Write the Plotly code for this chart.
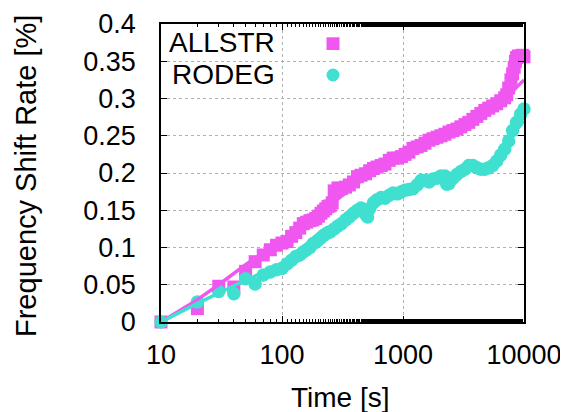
import plotly.graph_objects as go

# ---- data ----
allstr_t = [10, 20, 30, 40, 50, 60, 70, 80, 90, 100, 110, 120, 130, 140, 150, 160, 170, 180, 190, 200,
            210, 220, 230, 240, 250, 260, 270, 290, 310, 335, 360, 390, 420, 450, 490, 530, 570, 610,
            660, 710, 770, 830, 900, 970, 1040, 1120, 1210, 1310, 1410, 1520, 1640, 1770, 1910, 2060,
            2220, 2400, 2590, 2790, 3010, 3250, 3500, 3780, 4080, 4400, 4740, 5110, 5510, 5950, 6420,
            6920, 7200, 7470, 7800, 8050, 8300, 8500, 8690, 9000, 9370, 9700, 10000]
allstr_v = [0.0, 0.018, 0.048, 0.047, 0.068, 0.081, 0.09, 0.097, 0.103, 0.106, 0.108, 0.115, 0.12, 0.126,
            0.132, 0.134, 0.136, 0.137, 0.139, 0.142, 0.146, 0.149, 0.152, 0.155, 0.156, 0.16, 0.176, 0.18,
            0.179, 0.181, 0.184, 0.188, 0.195, 0.197, 0.199, 0.203, 0.206, 0.208, 0.21, 0.212, 0.217,
            0.22, 0.22, 0.222, 0.225, 0.228, 0.233, 0.235, 0.237, 0.24, 0.244, 0.246, 0.248, 0.25, 0.252,
            0.255, 0.257, 0.259, 0.262, 0.265, 0.268, 0.272, 0.276, 0.28, 0.284, 0.287, 0.29, 0.293,
            0.297, 0.301, 0.305, 0.314, 0.325, 0.333, 0.342, 0.35, 0.355, 0.357, 0.357, 0.358, 0.356]

rodeg_t = [10, 20, 30, 40, 50, 60, 70, 80, 90, 100, 110, 120, 130, 140, 150, 160, 170, 180, 190, 200,
           210, 220, 230, 240, 250, 270, 290, 310, 335, 360, 390, 420, 450, 490, 510, 530, 570, 610,
           660, 710, 770, 830, 900, 970, 1040, 1120, 1210, 1310, 1410, 1520, 1640, 1770, 1910, 2060,
           2220, 2300, 2400, 2590, 2790, 3010, 3250, 3500, 3780, 4080, 4400, 4740, 5110, 5510, 5950,
           6420, 6920, 7470, 8050, 8690, 9370, 10000]
rodeg_v = [0.0, 0.027, 0.041, 0.038, 0.058, 0.051, 0.063, 0.067, 0.07, 0.072, 0.078, 0.083, 0.088, 0.09,
           0.094, 0.097, 0.1, 0.105, 0.107, 0.11, 0.113, 0.116, 0.118, 0.12, 0.121, 0.125, 0.129, 0.132,
           0.137, 0.141, 0.146, 0.15, 0.153, 0.145, 0.141, 0.152, 0.16, 0.164, 0.167, 0.166, 0.17, 0.173,
           0.172, 0.175, 0.177, 0.178, 0.179, 0.184, 0.19, 0.19, 0.188, 0.192, 0.193, 0.196, 0.196,
           0.185, 0.186, 0.193, 0.198, 0.202, 0.205, 0.21, 0.21, 0.207, 0.205, 0.205, 0.207, 0.21,
           0.216, 0.224, 0.232, 0.243, 0.257, 0.268, 0.279, 0.286]

# fitted curves drawn as lines
allstr_fit_t = [10, 20, 30, 50, 100, 200, 500, 1000, 2000, 5000, 7000, 10000]
allstr_fit_v = [0.0, 0.03, 0.05, 0.077, 0.11, 0.145, 0.195, 0.22, 0.245, 0.283, 0.3, 0.325]
rodeg_fit_t = [10, 20, 50, 100, 200, 500, 1000, 2000, 5000, 10000]
rodeg_fit_v = [0.0, 0.025, 0.056, 0.078, 0.11, 0.15, 0.175, 0.193, 0.21, 0.27]

x_tickvals = [10, 100, 1000, 10000]
x_ticktext = ["10", "100", "1000", "10000"]
y_tickvals = [0, 0.05, 0.1, 0.15, 0.2, 0.25, 0.3, 0.35, 0.4]
y_ticktext = ["0", "0.05", "0.1", "0.15", "0.2", "0.25", "0.3", "0.35", "0.4"]

series_names = ["ALLSTR", "RODEG"]
MAG = "#F057F0"
TUR = "#40E0D0"
FONT = "Liberation Sans, Arial, sans-serif"

fig = go.Figure()
fig.add_trace(go.Scatter(x=allstr_t, y=allstr_v, mode="markers", name=series_names[0],
                         marker=dict(symbol="square", size=13, color=MAG, line=dict(width=0)),
                         cliponaxis=False))
fig.add_trace(go.Scatter(x=rodeg_t, y=rodeg_v, mode="markers", name=series_names[1],
                         marker=dict(symbol="circle", size=13.5, color=TUR, line=dict(width=0)),
                         cliponaxis=False))
fig.add_trace(go.Scatter(x=allstr_fit_t, y=allstr_fit_v, mode="lines", showlegend=False,
                         line=dict(color=MAG, width=3.5), cliponaxis=False))
fig.add_trace(go.Scatter(x=rodeg_fit_t, y=rodeg_fit_v, mode="lines", showlegend=False,
                         line=dict(color=TUR, width=3.5), cliponaxis=False))

axis_common = dict(
    showline=True, linecolor="black", linewidth=1.5, mirror="allticks",
    ticks="inside", tickcolor="black", tickwidth=1, automargin=False,
    showgrid=True, gridcolor="#b0b0b0", griddash="dot", gridwidth=1,
    zeroline=False, tickfont=dict(family=FONT, size=27, color="black"),
)

fig.update_xaxes(type="log", range=[1, 4], tickvals=x_tickvals, ticktext=x_ticktext,
                 ticklen=6, ticklabelstandoff=8,
                 minor=dict(ticks="inside", ticklen=3, tickcolor="black", showgrid=False),
                 **axis_common)
fig.update_yaxes(range=[0, 0.4], tickvals=y_tickvals, ticktext=y_ticktext,
                 ticklen=6, ticklabelstandoff=18, **axis_common)

# white legend background hiding the grid
fig.add_shape(type="rect", xref="paper", yref="paper", x0=0, x1=0.617, y0=0.779, y1=1,
              fillcolor="white", line=dict(width=0), layer="between")

# legend: text right-aligned, sample to the right
fig.add_annotation(xref="paper", yref="paper", x=(277 - 161) / 363, y=(322 - 42) / 298,
                   text=series_names[0], showarrow=False, xanchor="right", yanchor="middle",
                   font=dict(family=FONT, size=28, color="black"))
fig.add_annotation(xref="paper", yref="paper", x=(277 - 161) / 363, y=(322 - 74) / 298,
                   text=series_names[1], showarrow=False, xanchor="right", yanchor="middle",
                   font=dict(family=FONT, size=28, color="black"))
fig.add_shape(type="rect", xref="paper", yref="paper",
              x0=(326.5 - 161) / 363, x1=(339.5 - 161) / 363,
              y0=(322 - 50) / 298, y1=(322 - 37.3) / 298,
              fillcolor=MAG, line=dict(width=0), layer="above")
fig.add_shape(type="circle", xref="paper", yref="paper",
              x0=(326.5 - 161) / 363, x1=(339.5 - 161) / 363,
              y0=(322 - 81.5) / 298, y1=(322 - 68.5) / 298,
              fillcolor=TUR, line=dict(width=0), layer="above")

# axis titles
fig.add_annotation(xref="paper", yref="paper", x=(340 - 161) / 363, y=(322 - 397) / 298,
                   text="Time [s]", showarrow=False, xanchor="center", yanchor="middle",
                   font=dict(family=FONT, size=28, color="black"))
fig.add_annotation(xref="paper", yref="paper", x=(26 - 161) / 363, y=(322 - 176) / 298,
                   text="Frequency Shift Rate [%]", showarrow=False, textangle=-90,
                   xanchor="center", yanchor="middle",
                   font=dict(family=FONT, size=29, color="black"))

# the page body has an 8px margin: the figure is 560x404 so it ends at the window edge
fig.update_layout(width=560, height=404, margin=dict(l=153, r=44, t=16, b=90),
                  paper_bgcolor="white", plot_bgcolor="white", showlegend=False,
                  font=dict(family=FONT, color="black"))

fig.write_html("out.html")
